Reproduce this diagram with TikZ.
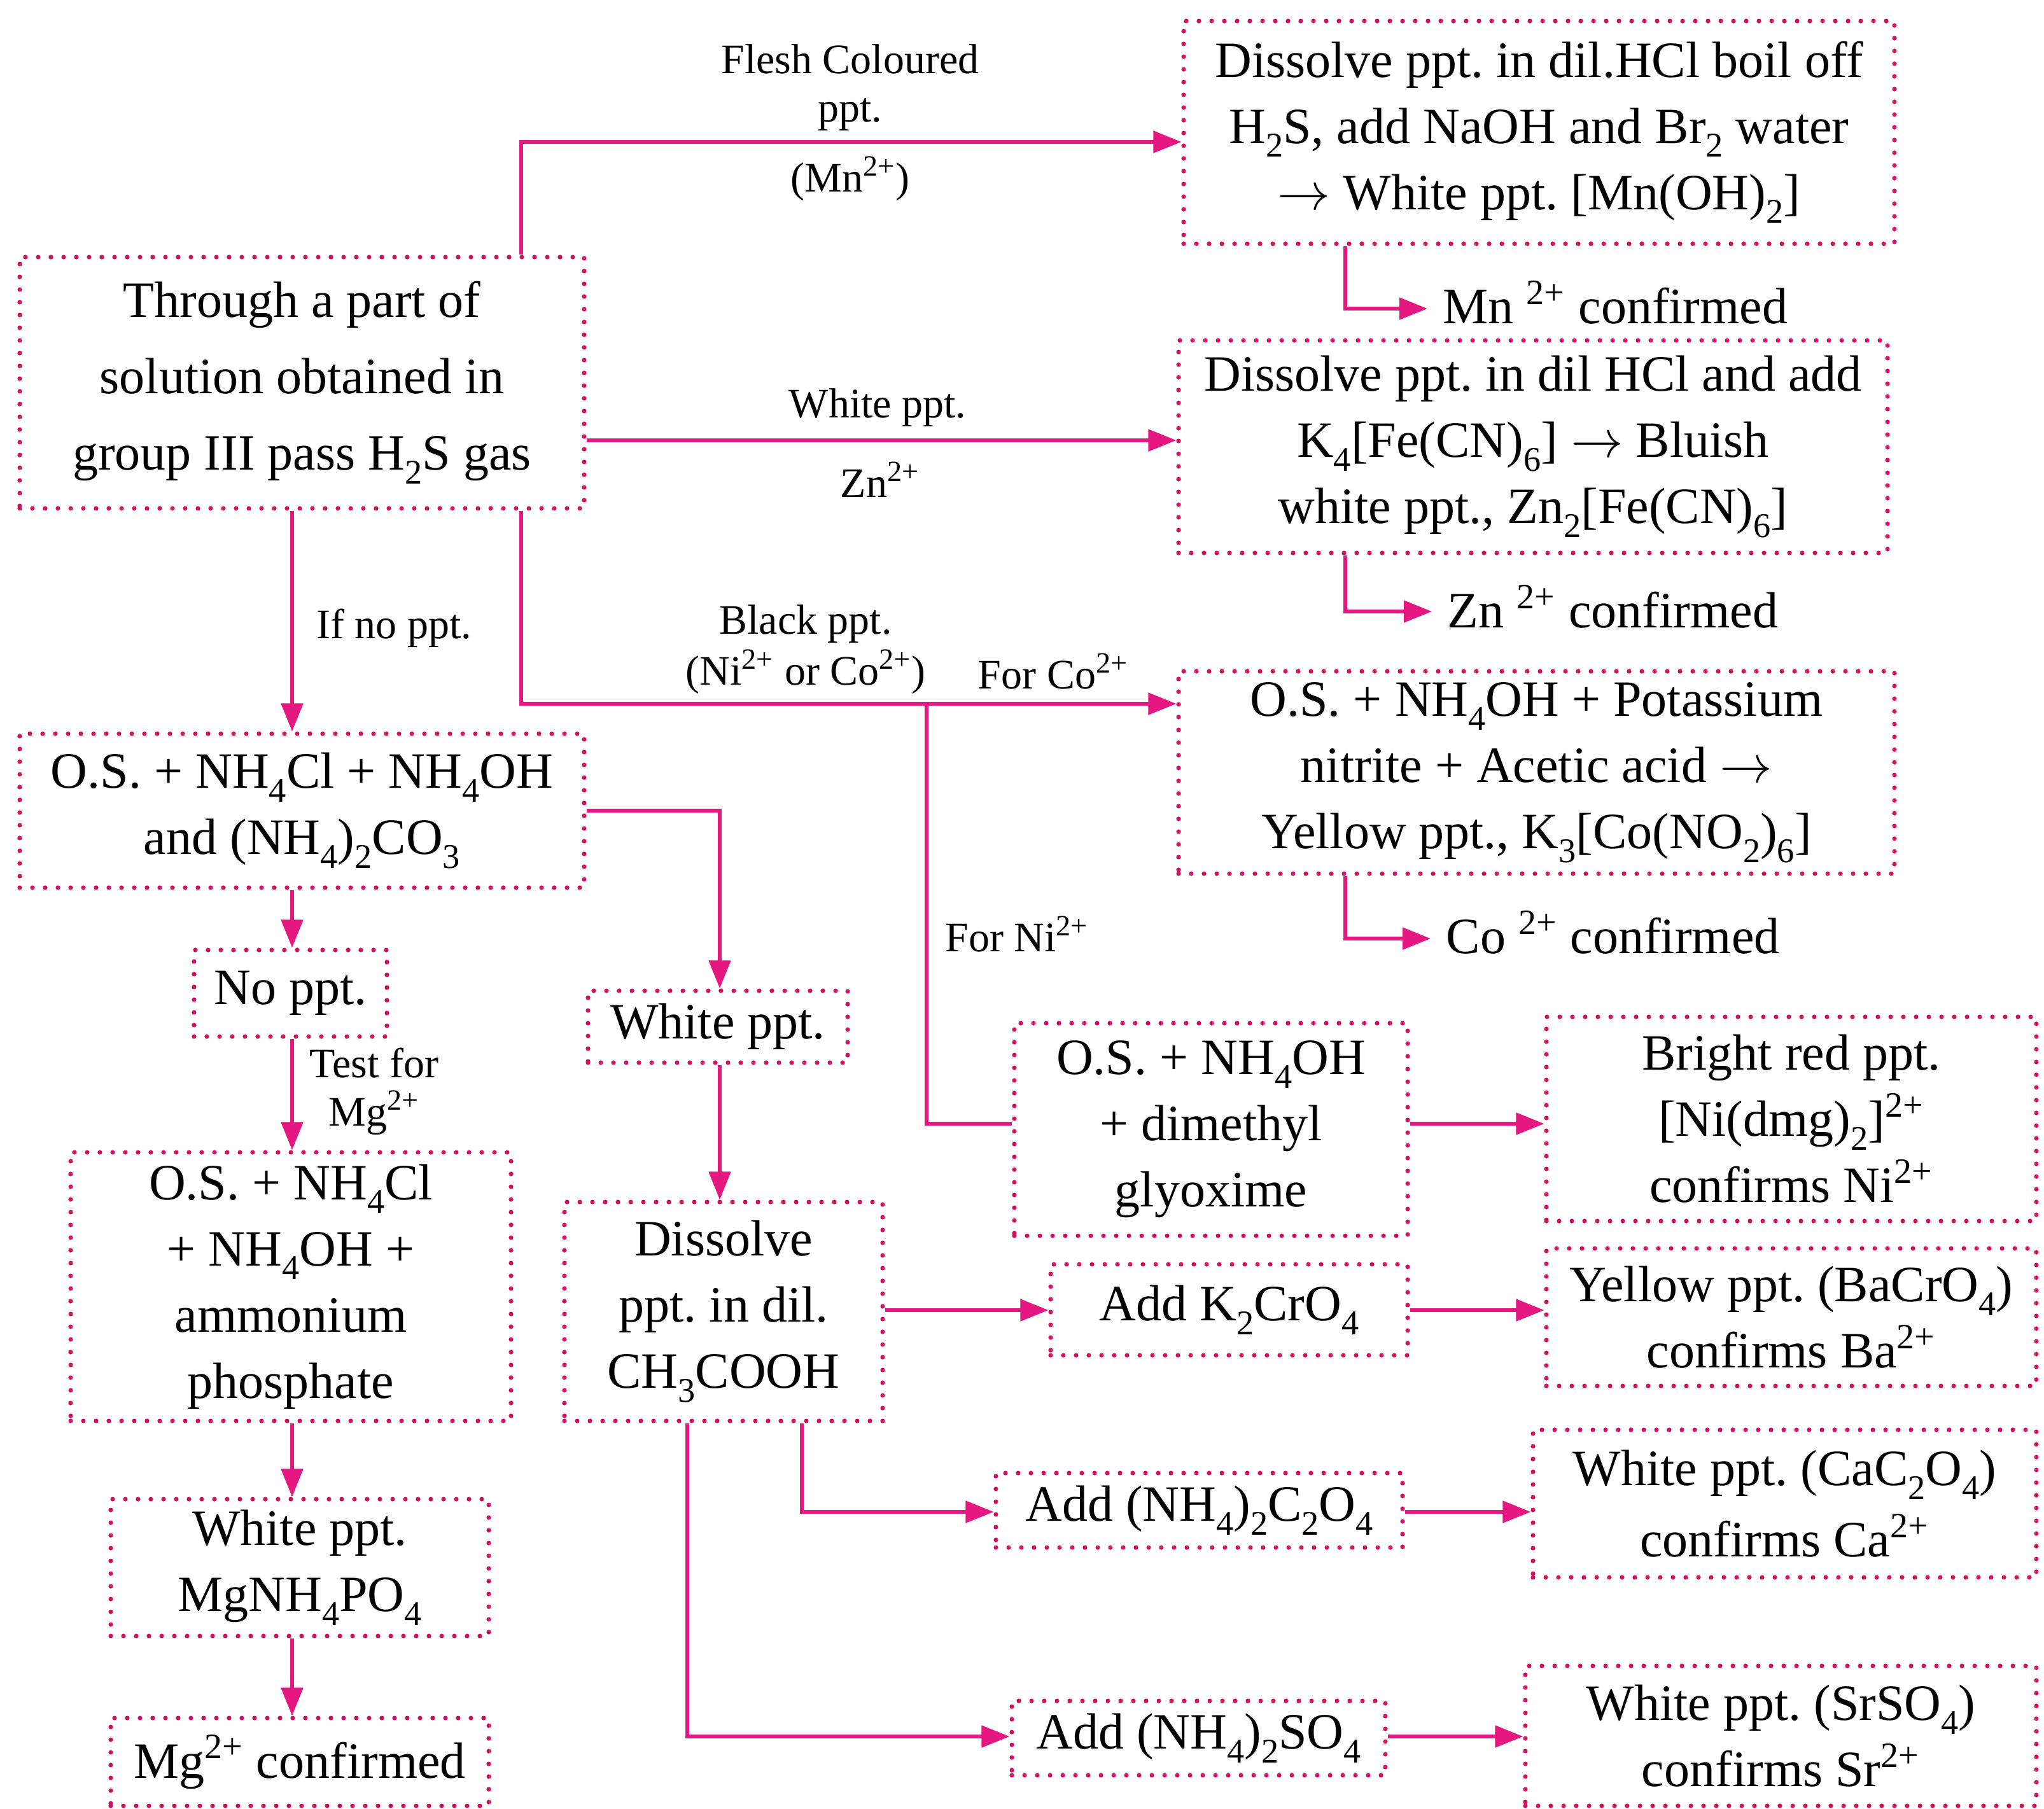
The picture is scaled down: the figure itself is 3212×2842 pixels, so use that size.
\documentclass[tikz,border=0pt]{standalone}
\usepackage{fontspec}
\setmainfont{Liberation Serif}
\usetikzlibrary{arrows.meta}
\definecolor{pk}{RGB}{228,24,128}
\definecolor{dotc}{RGB}{212,16,98}
\tikzset{
 dotbox/.style={draw=dotc, line width=1.8pt, dash pattern=on 0pt off 5pt, line cap=round, text=black, align=center, inner sep=0pt, font=\fontsize{20}{26}\selectfont},
 arr/.style={draw=pk, line width=1.3pt, -{Triangle[length=11pt,width=8.5pt]}},
 ln/.style={draw=pk, line width=1.3pt},
 lbl/.style={align=center, inner sep=0pt, font=\fontsize{16.5}{19}\selectfont},
 conf/.style={anchor=west, inner xsep=6pt, inner ysep=0pt, font=\fontsize{20}{26}\selectfont},
}
\frenchspacing
\newcommand\bx[7][]{\node[dotbox,#1, minimum width={(#5-#3)*0.25pt}, minimum height={(#6-#4)*0.25pt}] (#2) at ({(#3+#5)/2},{(#4+#6)/2}) {#7};}
\newcommand\sub[1]{\raisebox{-0.27em}{\fontsize{0.68em}{1em}\selectfont #1}}
\newcommand\sups[1]{\textsuperscript{#1}}
\begin{document}
\begin{tikzpicture}[x=0.25pt,y=-0.25pt]
\useasboundingbox[fill=white] (0,0) rectangle (3212,2842);
% boxes
\bx{mn}{1860}{33}{2977}{383}{Dissolve ppt. in dil.HCl boil off\\H\sub{2}S, add NaOH and Br\sub{2} water\\$\rightarrow$ White ppt. [Mn(OH)\sub{2}]}
\bx[font=\fontsize{20}{30}\selectfont]{main}{31}{404}{918}{799}{Through a part of\\solution obtained in\\group III pass H\sub{2}S gas}
\bx{zn}{1852}{535}{2966}{869}{Dissolve ppt. in dil HCl and add\\K\sub{4}[Fe(CN)\sub{6}] $\rightarrow$ Bluish\\white ppt., Zn\sub{2}[Fe(CN)\sub{6}]}
\bx{co}{1852}{1055}{2977}{1373}{O.S. + NH\sub{4}OH + Potassium\\nitrite + Acetic acid $\rightarrow$\\Yellow ppt., K\sub{3}[Co(NO\sub{2})\sub{6}]}
\bx{nh}{31}{1153}{918}{1395}{O.S. + NH\sub{4}Cl + NH\sub{4}OH\\and (NH\sub{4})\sub{2}CO\sub{3}}
\bx{np}{305}{1493}{608}{1629}{No ppt.}
\bx{wp}{924}{1557}{1332}{1670}{White ppt.}
\bx{am}{111}{1811}{803}{2233}{O.S. + NH\sub{4}Cl\\+ NH\sub{4}OH +\\ammonium\\phosphate}
\bx{mg}{174}{2356}{768}{2571}{White ppt.\\MgNH\sub{4}PO\sub{4}}
\bx{mgc}{174}{2700}{768}{2838}{Mg\sups{2+} confirmed}
\bx{ds}{887}{1889}{1387}{2233}{Dissolve\\ppt. in dil.\\CH\sub{3}COOH}
\bx{dm}{1594}{1608}{2212}{1942}{O.S. + NH\sub{4}OH\\+ dimethyl\\glyoxime}
\bx{red}{2430}{1598}{3200}{1919}{Bright red ppt.\\[0pt][Ni(dmg)\sub{2}]\sups{2+}\\confirms Ni\sups{2+}}
\bx{k2}{1651}{1987}{2212}{2130}{Add K\sub{2}CrO\sub{4}}
\bx{ye}{2430}{1962}{3200}{2178}{Yellow ppt. (BaCrO\sub{4})\\confirms Ba\sups{2+}}
\bx{c2}{1565}{2315}{2204}{2432}{Add (NH\sub{4})\sub{2}C\sub{2}O\sub{4}}
\bx[font=\fontsize{20}{28}\selectfont]{ca}{2409}{2247}{3200}{2479}{White ppt. (CaC\sub{2}O\sub{4})\\confirms Ca\sups{2+}}
\bx{so}{1590}{2673}{2177}{2790}{Add (NH\sub{4})\sub{2}SO\sub{4}}
\bx{sr}{2397}{2618}{3200}{2838}{White ppt. (SrSO\sub{4})\\confirms Sr\sups{2+}}
% confirmed texts
\node[conf] (mnc) at (2243,475) {Mn \sups{2+} confirmed};
\node[conf] (znc) at (2250,953) {Zn \sups{2+} confirmed};
\node[conf] (coc) at (2248,1465) {Co \sups{2+} confirmed};
% labels
\node[lbl] (l1) at (1336,138) {Flesh Coloured\\ppt.};
\node[lbl] (l2) at (1336,281) {(Mn\sups{2+})};
\node[lbl] (l3) at (1379,641) {White ppt.};
\node[lbl] (l4) at (1383,754) {Zn\sups{2+}};
\node[lbl, font=\fontsize{16.5}{20}\selectfont] (l5) at (1266,1021) {Black ppt.\\(Ni\sups{2+} or Co\sups{2+})};
\node[lbl] (l6) at (1655,1055) {For Co\sups{2+}};
\node[lbl] (l7) at (1598,1468) {For Ni\sups{2+}};
\node[lbl] (l8) at (619,987) {If no ppt.};
\node[lbl] (l9) at (588,1715) {Test for\\Mg\sups{2+}};
% helper coordinates
\coordinate (x819) at (819,0);
\coordinate (x459) at (459,0);
\coordinate (x1131) at (1131,0);
\coordinate (x1260) at (1260,0);
\coordinate (x1080) at (1080,0);
\coordinate (x2114) at (2114,0);
\coordinate (y223) at (0,223);
\coordinate (y485) at (0,485);
\coordinate (y961) at (0,961);
\coordinate (y1475) at (0,1475);
\coordinate (y692) at (0,692);
\coordinate (y1106) at (0,1106);
\coordinate (y1274) at (0,1274);
\coordinate (y1766) at (0,1766);
\coordinate (y2059) at (0,2059);
\coordinate (y2376) at (0,2376);
\coordinate (y2729) at (0,2729);
\coordinate (br) at (1456,1106);
% connectors
\draw[arr] (main.north -| x819) |- (mn.west |- y223);
\draw[arr] (main.east |- y692) -- (zn.west |- y692);
\draw[arr] (main.south -| x819) |- (co.west |- y1106);
\draw[ln] (br) |- (dm.west |- y1766);
\draw[arr] (main.south -| x459) -- (nh.north -| x459);
\draw[arr] (nh.south -| x459) -- (np.north -| x459);
\draw[arr] (nh.east |- y1274) -| (wp.north -| x1131);
\draw[arr] (np.south -| x459) -- (am.north -| x459);
\draw[arr] (am.south -| x459) -- (mg.north -| x459);
\draw[arr] (mg.south -| x459) -- (mgc.north -| x459);
\draw[arr] (wp.south -| x1131) -- (ds.north -| x1131);
\draw[arr] (ds.east |- y2059) -- (k2.west |- y2059);
\draw[arr] (ds.south -| x1260) |- (c2.west |- y2376);
\draw[arr] (ds.south -| x1080) |- (so.west |- y2729);
\draw[arr] (dm.east |- y1766) -- (red.west |- y1766);
\draw[arr] (k2.east |- y2059) -- (ye.west |- y2059);
\draw[arr] (c2.east |- y2376) -- (ca.west |- y2376);
\draw[arr] (so.east |- y2729) -- (sr.west |- y2729);
\draw[arr] (mn.south -| x2114) |- (mnc.west |- y485);
\draw[arr] (zn.south -| x2114) |- (znc.west |- y961);
\draw[arr] (co.south -| x2114) |- (coc.west |- y1475);
\end{tikzpicture}
\end{document}
